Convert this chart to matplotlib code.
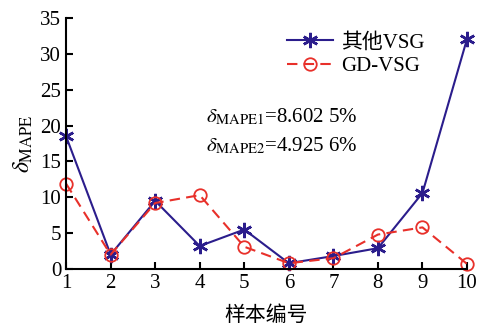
import matplotlib
matplotlib.use('Agg')
import matplotlib.pyplot as plt

samples = [1, 2, 3, 4, 5, 6, 7, 8, 9, 10]
other_vsg = [18.5, 2.0, 9.5, 3.2, 5.5, 0.8, 1.8, 2.9, 10.6, 32.1]
gd_vsg = [11.9, 2.0, 9.2, 10.3, 3.1, 0.8, 1.5, 4.8, 5.8, 0.7]

plt.rcParams['font.family'] = ['Liberation Serif', 'Noto Sans CJK SC']
plt.rcParams['mathtext.fontset'] = 'stix'

fig = plt.figure(figsize=(4.79, 3.30), dpi=100)
ax = fig.add_axes([0.138, 0.185, 0.837, 0.76])

ax.plot(samples, other_vsg, '-', color='#2b1d8c', linewidth=1.5,
        marker=(6, 2, 0), markersize=11, markeredgewidth=1.8, label='其他VSG')
ax.plot(samples, gd_vsg, '--', color='#e8302a', linewidth=1.5,
        dashes=[5, 3], marker='o', markersize=9, markerfacecolor='none',
        markeredgewidth=1.3, label='GD-VSG')

ax.set_xlim(1, 10)
ax.set_ylim(0, 35)
ax.set_xticks(samples)
ax.set_yticks(range(0, 36, 5))
ax.tick_params(direction='in', labelsize=15, width=1.5, length=5)
for s in ['top', 'right']:
    ax.spines[s].set_visible(False)
for s in ['left', 'bottom']:
    ax.spines[s].set_linewidth(1.5)
for ln in ax.lines:
    ln.set_clip_on(False)

ax.set_xlabel('样本编号', fontsize=15, family=['Noto Sans CJK SC'], labelpad=8)
ax.set_ylabel(r'$\delta_{\mathrm{MAPE}}$', fontsize=17, labelpad=4)

ax.text(0.35, 0.585, r'$\delta_{\mathrm{MAPE1}}$=8.602 5%', transform=ax.transAxes,
        fontsize=15)
ax.text(0.35, 0.47, r'$\delta_{\mathrm{MAPE2}}$=4.925 6%', transform=ax.transAxes,
        fontsize=15)

leg = ax.legend(loc='upper right', bbox_to_anchor=(0.93, 1.0), frameon=False,
                fontsize=15, handlelength=2.2, borderaxespad=0.3, labelspacing=0.2,
                handletextpad=0.4)

fig.savefig('out.png', dpi=100)
